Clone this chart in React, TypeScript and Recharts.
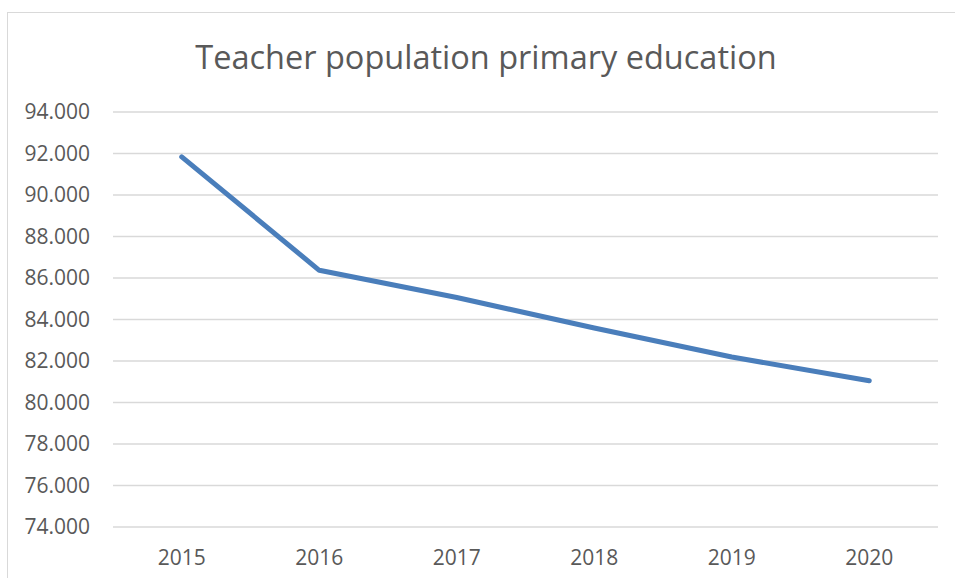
import { LineChart, Line, XAxis, YAxis, CartesianGrid } from 'recharts'

const years = ['2015', '2016', '2017', '2018', '2019', '2020']
const teachers = [91840, 86370, 85060, 83590, 82190, 81050]
const yTicks = [74000, 76000, 78000, 80000, 82000, 84000, 86000, 88000, 90000, 92000, 94000]

const data = years.map((y, i) => ({ year: y, value: teachers[i] }))

const FONT = '"Open Sans", sans-serif'
const GREY = '#595959'

const fmt = (v: number) => (v / 1000).toFixed(3)

export default function App() {
  return (
    <div style={{ position: 'absolute', left: 0, top: 0, width: 955, height: 578, overflow: 'hidden', background: '#fff' }}>
      <div
        style={{
          position: 'absolute', left: 7, top: 12, width: 960, height: 600,
          border: '1px solid #d9d9d9', boxSizing: 'border-box',
        }}
      />
      <svg width={955} height={100} style={{ position: 'absolute', left: 0, top: 0 }}>
        <text x={486} y={69} textAnchor="middle" fontFamily={FONT} fontSize={32.5} fill={GREY}>
          Teacher population primary education
        </text>
      </svg>
      <div style={{ position: 'absolute', left: 0, top: 0 }}>
        <LineChart width={955} height={578} data={data} margin={{ top: 112, right: 17, bottom: 0, left: 0 }}>
          <CartesianGrid vertical={false} stroke="#d9d9d9" strokeWidth={1.3} />
          <XAxis
            dataKey="year"
            axisLine={false}
            tickLine={false}
            height={51}
            tickMargin={17}
            padding={{ left: 68.75, right: 68.75 }}
            tick={{ fill: GREY, fontSize: 21, fontFamily: FONT }}
          />
          <YAxis
            width={113}
            domain={[74000, 94000]}
            ticks={yTicks}
            tickFormatter={fmt}
            axisLine={false}
            tickLine={false}
            tickMargin={17}
            tick={{ fill: GREY, fontSize: 21, fontFamily: FONT }}
          />
          <Line
            type="linear"
            dataKey="value"
            stroke="#4a7ebb"
            strokeWidth={5}
            strokeLinecap="round"
            strokeLinejoin="round"
            dot={false}
            isAnimationActive={false}
          />
        </LineChart>
      </div>
    </div>
  )
}
